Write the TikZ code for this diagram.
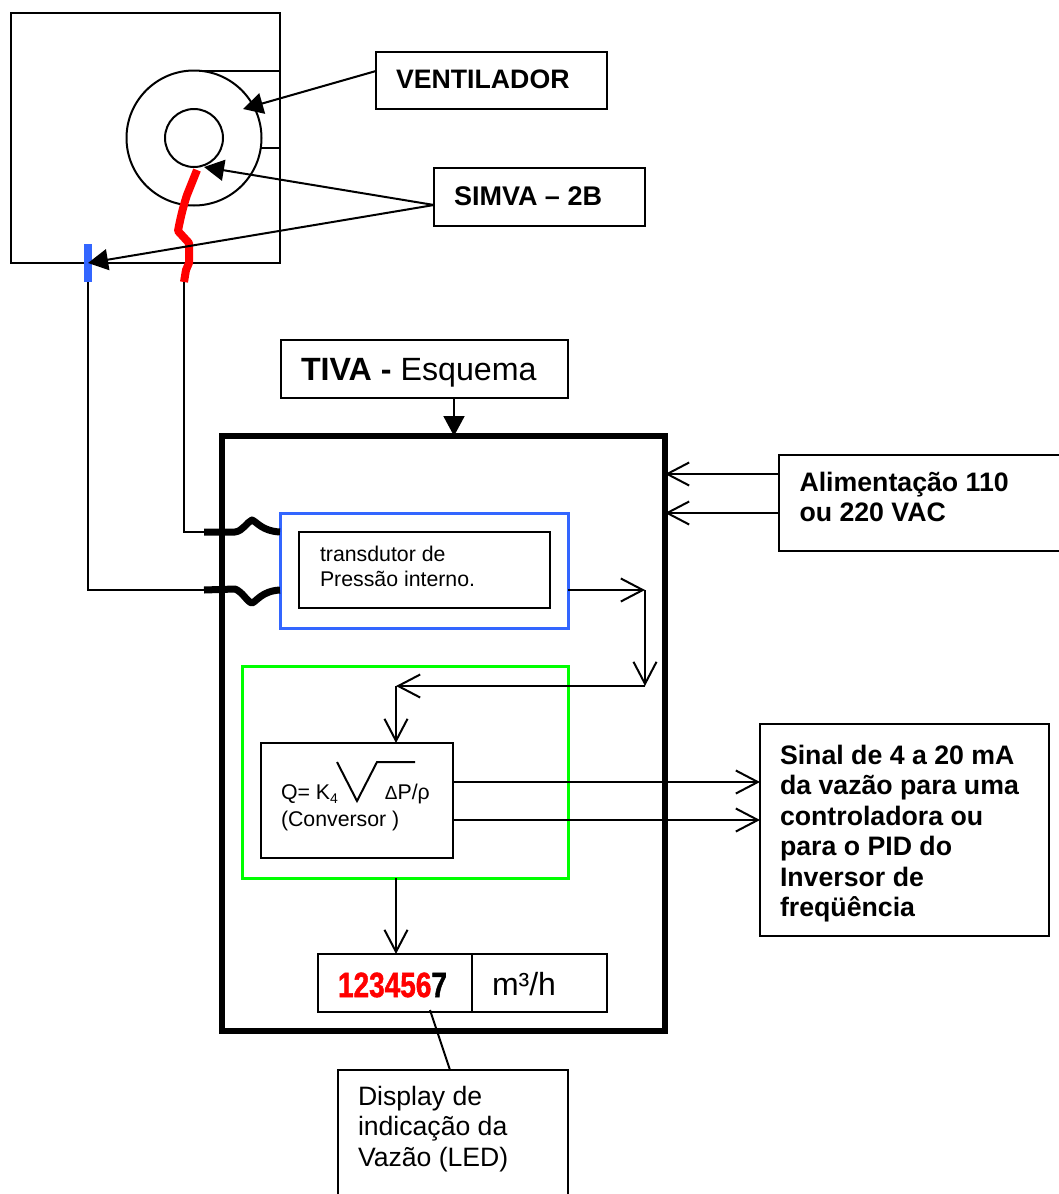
\documentclass[tikz,border=0pt]{standalone}
\usepackage{fontspec}
\usepackage{graphicx}
\setmainfont{Liberation Sans}
\newfontfamily\digitfont[BoldFeatures={FakeBold=1.5}]{Liberation Sans}
\usetikzlibrary{arrows.meta}
\definecolor{blueline}{HTML}{3366FF}
\definecolor{limeline}{HTML}{00FF00}
\newcommand{\fb}{\fontsize{26.7}{30.5}\selectfont\bfseries}
\newcommand{\fn}{\fontsize{26.6}{30.5}\selectfont}
\newcommand{\fs}{\fontsize{21.3}{25.5}\selectfont}
\tikzset{
  box/.style={draw=black,line width=2pt,anchor=north west,inner sep=0pt,outer sep=0pt,rectangle},
  txt/.style={anchor=base west,inner sep=0pt,outer sep=0pt,align=flush left,text width=280pt},
  wire/.style={draw=black,line width=2pt},
  solidarrow/.style={wire,-{Triangle[length=20pt,width=21pt]}},
  openarrow/.style={wire,-{Straight Barb[length=22pt,width=23pt,line width=2pt]}},
  thickwire/.style={draw=black,line width=7pt,line join=round},
}
\begin{document}
\begin{tikzpicture}[x=1pt,y=-1pt]
\useasboundingbox (0,0) rectangle (1058,1194);
% fan housing
\node[box,minimum width=269pt,minimum height=250pt] (house) at (11,13) {};
\node[circle,draw,line width=2pt,inner sep=0pt,outer sep=0pt,minimum size=135pt] (fan) at (194,138) {};
\node[circle,draw,line width=2pt,inner sep=0pt,outer sep=0pt,minimum size=58pt] (hub) at (194,138) {};
\draw[wire] ([xshift=5pt]fan.north) -- (house.east |- fan.north);
\draw[wire] (260,148) -- (house.east |- 260,148);
% red tube and blue tap
\coordinate (redTop) at (197,170);
\coordinate (redBot) at (184,282);
\draw[draw=red,line width=8pt,line join=round] (redTop) -- (187,195) .. controls (183,207) and (180,220) .. (178,231) -- (189,243) -- (189,263) -- (186,270) -- (redBot);
\node[fill=blueline,inner sep=0pt,outer sep=0pt,minimum width=8pt,minimum height=38pt,anchor=north west] (tap) at (84,244) {};
% labels top
\node[box,minimum width=231pt,minimum height=57pt] (vent) at (376,52) {};
\node[txt,font=\fb] (ventT) at (396,88) {VENTILADOR};
\node[box,minimum width=211pt,minimum height=58pt] (simva) at (434,168) {};
\node[txt,font=\fontsize{27}{30.5}\selectfont\bfseries] (simvaT) at (454,205) {SIMVA – 2B};
\coordinate (ventTip) at (243,109);
\coordinate (hubTip) at (204,167);
\draw[solidarrow] ([yshift=9.5pt]vent.west) -- (ventTip);
\draw[solidarrow] ([yshift=-8pt]simva.west) -- (hubTip);
\draw[solidarrow] ([yshift=-8pt]simva.west) -- (tap.center);
% TIVA
\node[box,minimum width=287pt,minimum height=58pt] (tiva) at (281,340) {};
\node[txt,font=\fontsize{32.2}{36}\selectfont] (tivaT) at (301,380.5) {\textbf{TIVA -} Esquema};
\node[box,line width=5.5pt,minimum width=443pt,minimum height=595pt] (main) at (222,436) {};
\draw[solidarrow] (tiva.south -| 454,0) -- (main.north -| 454,0);
% transducer
\node[box,draw=blueline,line width=3pt,minimum width=288pt,minimum height=115pt] (press) at (280,513) {};
\node[box,minimum width=251pt,minimum height=76pt] (trans) at (299,532) {};
\node[txt,font=\fs] (transT) at (320,561) {transdutor de\\Pressão interno.};
% pressure lines
\draw[wire] (tap.south -| 88,0) -- (88,590) -- (205,590);
\draw[wire] (redBot) -- (184,532) -- (205,532);
\coordinate (pa) at (204,532);
\coordinate (pb) at (204,590);
\draw[thickwire] (pa) -- (235,532) .. controls (243,531) and (247,522) .. (252,520) .. controls (257,522) and (262,531) .. (press.west |- pa);
\draw[thickwire] (pb) -- (235,589) .. controls (243,592) and (247,602) .. (252,603) .. controls (257,601) and (262,591) .. (press.west |- pb);
% green converter
\node[box,draw=limeline,line width=3pt,minimum width=326pt,minimum height=212pt] (green) at (242,666) {};
\node[box,minimum width=192pt,minimum height=115pt] (conv) at (261,743) {};
\node[txt,font=\fs] (convT) at (281,799) {Q= K\raisebox{-4pt}{\fontsize{14}{14}\selectfont 4}\hspace{47pt}{\fontsize{19}{19}\selectfont Δ}P/ρ};
\node[txt,font=\fs] (convU) at (281,826) {(Conversor )};
\coordinate (s1) at (337,762);
\coordinate (s2) at (357,801);
\coordinate (s3) at (377,762);
\coordinate (s4) at (415,762);
\draw[wire] (s1) -- (s2) -- (s3) -- (s4);
% flow arrows
\coordinate (c1) at (645,590);
\coordinate (c2) at (645,686);
\coordinate (c3) at (396,686);
\draw[openarrow] (press.east |- c1) -- (c1);
\draw[openarrow] (c1) -- (c2);
\draw[openarrow] (c2) -- (c3);
\draw[openarrow] (c3) -- (conv.north -| c3);
% display
\node[box,minimum width=154pt,minimum height=58pt] (disp) at (318,954) {};
\node[box,minimum width=135pt,minimum height=58pt] (unit) at (472,954) {};
\node[txt,font=\fontsize{35}{35}\selectfont] (dispT) at (338,997) {\digitfont\bfseries\scalebox{0.8}[1]{\textcolor{red}{123456}7}};
\node[txt,font=\fontsize{32}{34}\selectfont] (unitT) at (492,995) {m³/h};
\draw[openarrow] (green.south -| 396,0) -- (disp.north -| 396,0);
\node[box,minimum width=230pt,minimum height=130pt] (note) at (338,1070) {};
\node[txt,font=\fn] (noteT) at (358,1105) {Display de\\indicação da\\Vazão (LED)};
\draw[wire] (430,1010) -- (note.north -| 450,0);
% power
\node[box,minimum width=285pt,minimum height=96pt] (power) at (779,455) {};
\node[txt,font=\fb] (powerT) at (799.5,491) {Alimentação 110\\ou 220 VAC};
\draw[openarrow] (power.west |- 0,474) -- (main.east |- 0,474);
\draw[openarrow] (power.west |- 0,513) -- (main.east |- 0,513);
% output
\node[box,minimum width=289pt,minimum height=212pt] (out) at (760,724) {};
\node[txt,font=\fb] (outT) at (780,764) {Sinal de 4 a 20 mA\\da vazão para uma\\controladora ou\\para o PID do\\Inversor de\\freqüência};
\draw[openarrow] (conv.east |- 0,782) -- (out.west |- 0,782);
\draw[openarrow] (conv.east |- 0,820) -- (out.west |- 0,820);
\end{tikzpicture}
\end{document}
